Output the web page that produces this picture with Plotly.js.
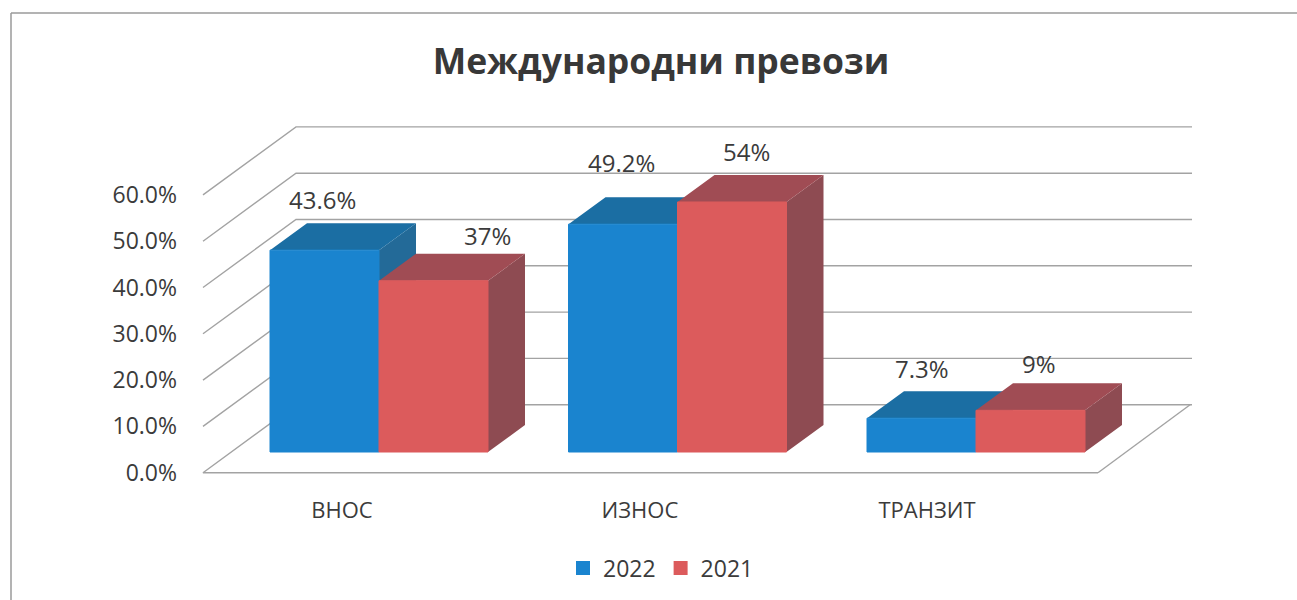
<!DOCTYPE html>
<html>
<head>
<meta charset="utf-8">
<script src="https://cdn.plot.ly/plotly-3.0.1.min.js"></script>
<style>html,body{margin:0;padding:0;background:#fff}#c{width:1297px;height:600px}</style>
</head>
<body>
<div id="c"></div>
<script>
// ---- data ----
const categories = ['ВНОС', 'ИЗНОС', 'ТРАНЗИТ'];
const seriesNames = ['2022', '2021'];
const values2022 = [43.6, 49.2, 7.3];
const values2021 = [37, 54, 9];
const yTickValues = [0, 10, 20, 30, 40, 50, 60];

// ---- geometry of the pseudo-3D box, in axis units ----
const W = 1297, H = 600;
const L = 178, R = 1297, T = 100, B = 495;      // plot area in pixels
const pxPerCat = 298.5, pxPerPct = 4.63;
const cat0Px = 379, zeroPx = 472.7;
const xRange = [(L - cat0Px) / pxPerCat, (R - cat0Px) / pxPerCat];
const yRange = [(zeroPx - B) / pxPerPct, (zeroPx - T) / pxPerPct];
const barW = 109 / pxPerCat;
const floorBase = 20.7 / pxPerPct;              // bars stand in from the front of the floor
const barDX = 37 / pxPerCat, barDY = 27 / pxPerPct;
const wallDX = 93 / pxPerCat, wallDY = 68 / pxPerPct;
const wallLeft = (203 - cat0Px) / pxPerCat, wallRight = (1192 - cat0Px) / pxPerCat;
const floorRight = (1098 - cat0Px) / pxPerCat;
const tickOffsets = [-0.124, -0.126, -0.164];
const labelShiftX = [[-2, -2, 0], [54, 14, 8]];
const labelShiftY = [[51, 62, 50], [45, 50, 47]];

const frontColors = ['#1a84cf', '#dc5b5c'];
const topColors = ['#1b6ea3', '#a04c54'];
const sideColors = ['#236a98', '#8e4b52'];
const gridColor = '#a3a3a3';
const textColor = '#3b3b3b';
const FONT = '"Open Sans", sans-serif';

const indices = categories.map((_, i) => i);
const allValues = [values2022, values2021];

const traces = [];
// walls and floor
const gx = [], gy = [];
yTickValues.forEach(v => {
  if (v === 0) {
    gx.push(floorRight, wallLeft);
    gy.push(v, v);
  } else {
    gx.push(wallLeft);
    gy.push(v);
  }
  gx.push(wallLeft + wallDX, wallRight, null);
  gy.push(v + wallDY, v + wallDY, null);
});
gx.push(floorRight, floorRight + wallDX - 0.003);
gy.push(0, wallDY);
traces.push({x: gx, y: gy, mode: 'lines', line: {color: gridColor, width: 1.4},
             showlegend: false, hoverinfo: 'skip', xaxis: 'x', yaxis: 'y'});

// top and side faces
allValues.forEach((vals, s) => {
  const tx = [], ty = [], sx = [], sy = [];
  vals.forEach((v, i) => {
    const l = i - barW + s * barW, r = l + barW, top = floorBase + v;
    tx.push(l, r, r + barDX, l + barDX, l, null);
    ty.push(top, top, top + barDY, top + barDY, top, null);
    sx.push(r, r + barDX, r + barDX, r, r, null);
    sy.push(top, top + barDY, floorBase + barDY, floorBase, top, null);
  });
  traces.push({x: sx, y: sy, mode: 'lines', fill: 'toself', fillcolor: sideColors[s],
               line: {width: 0, color: sideColors[s]}, showlegend: false, hoverinfo: 'skip', xaxis: 'x', yaxis: 'y'});
  traces.push({x: tx, y: ty, mode: 'lines', fill: 'toself', fillcolor: topColors[s],
               line: {width: 0, color: topColors[s]}, showlegend: false, hoverinfo: 'skip', xaxis: 'x', yaxis: 'y'});
});

// front faces: real bars on an overlaid pair of axes, so they sit above the depth faces
allValues.forEach((vals, s) => {
  traces.push({type: 'bar', name: seriesNames[s], x: indices, y: vals,
               base: vals.map(() => floorBase),
               marker: {color: frontColors[s], line: {color: frontColors[s], width: 1}},
               xaxis: 'x2', yaxis: 'y2'});
});

const annotations = [];
allValues.forEach((vals, s) => vals.forEach((v, i) => {
  annotations.push({x: i - barW / 2 + s * barW, y: floorBase + v, xref: 'x', yref: 'y',
    text: v + '%', showarrow: false, xanchor: 'center', yanchor: 'middle',
    xshift: labelShiftX[s][i], yshift: labelShiftY[s][i],
    font: {family: FONT, size: 24, color: textColor}});
}));

const px = p => (p - L) / (R - L), py = p => (B - p) / (B - T);
const frameStyle = {color: '#9a9a9a', width: 1.5};
const layout = {
  width: W, height: H,
  margin: {l: L, r: W - R, t: T, b: H - B, pad: 0},
  paper_bgcolor: '#ffffff', plot_bgcolor: 'rgba(0,0,0,0)',
  title: {text: '<b>Международни превози</b>', x: px(661), xanchor: 'center', xref: 'paper',
          y: 1 - 62 / H, yanchor: 'middle', yref: 'container',
          font: {family: FONT, size: 35.5, color: '#383838'}},
  showlegend: true,
  legend: {orientation: 'h', x: px(661), xanchor: 'center', y: py(568), yanchor: 'middle',
           font: {family: FONT, size: 23, color: textColor}, itemsizing: 'constant',
           traceorder: 'normal', bgcolor: 'rgba(0,0,0,0)'},
  barmode: 'group', bargap: 1 - 2 * barW, bargroupgap: 0,
  xaxis: {range: xRange, tickmode: 'array', tickvals: indices.map(i => i + tickOffsets[i]), ticktext: categories,
          showgrid: false, zeroline: false, showline: false, ticks: '', fixedrange: true,
          tickfont: {family: FONT, size: 22, color: textColor}},
  yaxis: {range: yRange, tickmode: 'array', tickvals: yTickValues,
          ticktext: yTickValues.map(v => v.toFixed(1) + '%'),
          showgrid: false, zeroline: false, showline: false, ticks: '', fixedrange: true,
          tickfont: {family: FONT, size: 23, color: textColor}},
  xaxis2: {range: xRange, overlaying: 'x', visible: false, fixedrange: true},
  yaxis2: {range: yRange, overlaying: 'y', visible: false, fixedrange: true},
  annotations: annotations,
  shapes: [
    {type: 'line', xref: 'paper', yref: 'paper', x0: px(11), x1: px(1297), y0: py(13), y1: py(13), line: frameStyle},
    {type: 'line', xref: 'paper', yref: 'paper', x0: px(11), x1: px(11), y0: py(13), y1: py(600), line: frameStyle}
  ]
};
Plotly.newPlot('c', traces, layout, {displayModeBar: false, staticPlot: true});
</script>
</body>
</html>
